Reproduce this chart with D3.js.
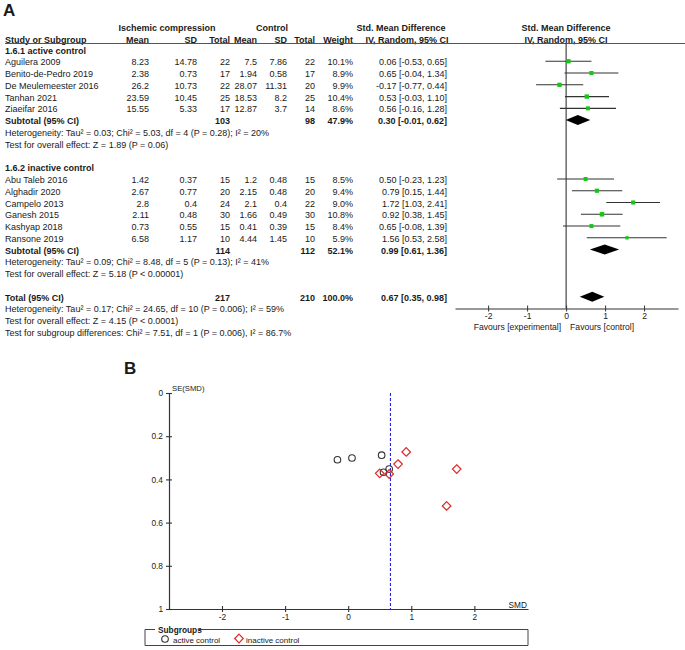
<!DOCTYPE html>
<html><head><meta charset="utf-8">
<script src="https://cdn.jsdelivr.net/npm/d3@7"></script>
<style>
body{margin:0;background:#fff}
svg{display:block}
text{font-family:"Liberation Sans",Arial,sans-serif;fill:#1a1a1a}
</style>
</head><body>
<svg id="c" width="685" height="650"></svg>
<script>
// ---------- DATA ----------
const subgroupNames = ["1.6.1 active control", "1.6.2 inactive control"];
const studyNames = ["Aguilera 2009", "Benito-de-Pedro 2019", "De Meulemeester 2016", "Tanhan 2021", "Ziaeifar 2016",
  "Abu Taleb 2016", "Alghadir 2020", "Campelo 2013", "Ganesh 2015", "Kashyap 2018", "Ransone 2019"];
const studyGroup = [0,0,0,0,0,1,1,1,1,1,1];
const icMean   = [8.23, 2.38, 26.2, 23.59, 15.55, 1.42, 2.67, 2.8, 2.11, 0.73, 6.58];
const icSD     = [14.78, 0.73, 10.73, 10.45, 5.33, 0.37, 0.77, 0.4, 0.48, 0.55, 1.17];
const icTotal  = [22, 17, 22, 25, 17, 15, 20, 24, 30, 15, 10];
const ctlMean  = [7.5, 1.94, 28.07, 18.53, 12.87, 1.2, 2.15, 2.1, 1.66, 0.41, 4.44];
const ctlSD    = [7.86, 0.58, 11.31, 8.2, 3.7, 0.48, 0.48, 0.4, 0.49, 0.39, 1.45];
const ctlTotal = [22, 17, 20, 25, 14, 15, 20, 22, 30, 15, 10];
const weights  = [10.1, 8.9, 9.9, 10.4, 8.6, 8.5, 9.4, 9.0, 10.8, 8.4, 5.9];
const smd      = [0.06, 0.65, -0.17, 0.53, 0.56, 0.50, 0.79, 1.72, 0.92, 0.65, 1.56];
const ciLow    = [-0.53, -0.04, -0.77, -0.03, -0.16, -0.23, 0.15, 1.03, 0.38, -0.08, 0.53];
const ciHigh   = [0.65, 1.34, 0.44, 1.10, 1.28, 1.23, 1.44, 2.41, 1.45, 1.39, 2.58];
const seSMD    = [0.301, 0.352, 0.309, 0.288, 0.367, 0.372, 0.329, 0.352, 0.273, 0.375, 0.523];

const pooledLabels = ["Subtotal (95% CI)", "Subtotal (95% CI)", "Total (95% CI)"];
const pooledIcTotal = [103, 114, 217];
const pooledCtlTotal = [98, 112, 210];
const pooledWeight = [47.9, 52.1, 100.0];
const pooledSMD = [0.30, 0.99, 0.67];
const pooledLow = [-0.01, 0.61, 0.35];
const pooledHigh = [0.62, 1.36, 0.98];
const hetTexts = [
  "Heterogeneity: Tau\u00B2 = 0.03; Chi\u00B2 = 5.03, df = 4 (P = 0.28); I\u00B2 = 20%",
  "Heterogeneity: Tau\u00B2 = 0.09; Chi\u00B2 = 8.48, df = 5 (P = 0.13); I\u00B2 = 41%",
  "Heterogeneity: Tau\u00B2 = 0.17; Chi\u00B2 = 24.65, df = 10 (P = 0.006); I\u00B2 = 59%"
];
const effectTexts = [
  "Test for overall effect: Z = 1.89 (P = 0.06)",
  "Test for overall effect: Z = 5.18 (P < 0.00001)",
  "Test for overall effect: Z = 4.15 (P < 0.0001)"
];
const subgroupDiffText = "Test for subgroup differences: Chi\u00B2 = 7.51, df = 1 (P = 0.006), I\u00B2 = 86.7%";
const forestTicks = [-2, -1, 0, 1, 2];
const funnelXTicks = [-2, -1, 0, 1, 2];
const funnelYTicks = [0, 0.2, 0.4, 0.6, 0.8, 1];
const favoursLeft = "Favours [experimental]";
const favoursRight = "Favours [control]";

// ---------- DRAW ----------
const svg = d3.select("#c");
const FS = 9;
const loc = d3.formatLocale({decimal: ".", thousands: ",", grouping: [3], currency: ["", ""], minus: "-"});

function txt(x, y, s, opt = {}) {
  return svg.append("text").attr("x", x).attr("y", y).text(s)
    .attr("font-size", opt.size || FS)
    .attr("font-weight", opt.bold ? "bold" : null)
    .attr("text-anchor", opt.anchor || "start")
    .attr("dominant-baseline", "central");
}

// Panel A
txt(3, 10, "A", {size: 17, bold: true});

// header
txt(167, 28, "Ischemic compression", {bold: true, anchor: "middle"});
txt(272, 28, "Control", {bold: true, anchor: "middle"});
txt(401, 28, "Std. Mean Difference", {bold: true, anchor: "middle"});
txt(566, 28, "Std. Mean Difference", {bold: true, anchor: "middle"});
const col = {mean1: 149, sd1: 197, tot1: 230, mean2: 257, sd2: 287, tot2: 315, w: 353, ci: 447};
txt(5, 39.5, "Study or Subgroup", {bold: true});
[["Mean", col.mean1], ["SD", col.sd1], ["Total", col.tot1], ["Mean", col.mean2], ["SD", col.sd2], ["Total", col.tot2], ["Weight", col.w]]
  .forEach(([s, x]) => txt(x, 39.5, s, {bold: true, anchor: "end"}));
txt(407, 39.5, "IV, Random, 95% CI", {bold: true, anchor: "middle"});
txt(566, 39.5, "IV, Random, 95% CI", {bold: true, anchor: "middle"});
svg.append("line").attr("x1", 5).attr("x2", 685).attr("y1", 43.5).attr("y2", 43.5)
  .attr("stroke", "#555").attr("stroke-width", 1);

const rowY = d3.scaleLinear().domain([0, 24]).range([49.5, 49.5 + 24 * 11.77]);
const fx = d3.scaleLinear().domain([-2.85, 2.87]).range([455, 678]);
const sqSize = d3.scaleSqrt().domain([0, 10.8]).range([0, 4.5]);
const f2 = loc.format(".2f");
const ciStr = (m, l, h) => `${f2(m)} [${f2(l)}, ${f2(h)}]`;

// zero line
const axisY = 308.5;
svg.append("line").attr("x1", fx(0)).attr("x2", fx(0)).attr("y1", 43.5).attr("y2", axisY)
  .attr("stroke", "#222").attr("stroke-width", 1);

let r = 0;
const textDy = 1;
function drawDiamond(gi, y) {
  const h = 5;
  const pts = [[fx(pooledLow[gi]), y], [fx(pooledSMD[gi]), y - h], [fx(pooledHigh[gi]), y], [fx(pooledSMD[gi]), y + h]];
  svg.append("path").attr("d", d3.line()(pts) + "Z").attr("fill", "#000");
}
function pooledRow(gi, y) {
  const ty = y + textDy;
  txt(5, ty, pooledLabels[gi], {bold: true});
  txt(col.tot1, ty, String(pooledIcTotal[gi]), {bold: true, anchor: "end"});
  txt(col.tot2, ty, String(pooledCtlTotal[gi]), {bold: true, anchor: "end"});
  txt(col.w, ty, pooledWeight[gi].toFixed(1) + "%", {bold: true, anchor: "end"});
  txt(col.ci, ty, ciStr(pooledSMD[gi], pooledLow[gi], pooledHigh[gi]), {bold: true, anchor: "end"});
  drawDiamond(gi, y);
}
subgroupNames.forEach((g, gi) => {
  txt(5, rowY(r) + textDy, g, {bold: true});
  r++;
  studyNames.forEach((name, i) => {
    if (studyGroup[i] !== gi) return;
    const y = rowY(r), ty = y + textDy;
    txt(5, ty, name);
    txt(col.mean1, ty, String(icMean[i]), {anchor: "end"});
    txt(col.sd1, ty, String(icSD[i]), {anchor: "end"});
    txt(col.tot1, ty, String(icTotal[i]), {anchor: "end"});
    txt(col.mean2, ty, String(ctlMean[i]), {anchor: "end"});
    txt(col.sd2, ty, String(ctlSD[i]), {anchor: "end"});
    txt(col.tot2, ty, String(ctlTotal[i]), {anchor: "end"});
    txt(col.w, ty, weights[i].toFixed(1) + "%", {anchor: "end"});
    txt(col.ci, ty, ciStr(smd[i], ciLow[i], ciHigh[i]), {anchor: "end"});
    svg.append("line").attr("x1", fx(ciLow[i])).attr("x2", fx(ciHigh[i])).attr("y1", y).attr("y2", y)
      .attr("stroke", "#333").attr("stroke-width", 1.1);
    const s = sqSize(weights[i]);
    svg.append("rect").attr("x", fx(smd[i]) - s / 2).attr("y", y - s / 2).attr("width", s).attr("height", s)
      .attr("fill", "#16c816");
    r++;
  });
  pooledRow(gi, rowY(r)); r++;
  txt(5, rowY(r) + textDy, hetTexts[gi]); r++;
  txt(5, rowY(r) + textDy, effectTexts[gi]); r++;
  r++; // blank row
});
pooledRow(2, rowY(r)); r++;
txt(5, rowY(r) + textDy, hetTexts[2]); r++;
txt(5, rowY(r) + textDy, effectTexts[2]); r++;
txt(5, rowY(r) + textDy, subgroupDiffText);

// forest axis
const fAxis = svg.append("g").attr("transform", `translate(0,${axisY})`)
  .call(d3.axisBottom(fx).tickValues(forestTicks).tickFormat(loc.format("d")).tickSizeOuter(0).tickSizeInner(3).tickPadding(0));
fAxis.select(".domain").attr("stroke", "#333");
fAxis.selectAll(".tick line").attr("y1", -3).attr("y2", 3).attr("stroke", "#333");
fAxis.selectAll(".tick text").attr("font-size", 8.6).attr("font-family", "Liberation Sans, Arial, sans-serif")
  .attr("fill", "#1a1a1a").attr("y", 7).attr("dy", null).attr("dominant-baseline", "central");
txt(fx(0) - 5, 326.5, favoursLeft, {anchor: "end", size: 8.6});
txt(fx(0) + 4, 326.5, favoursRight, {anchor: "start", size: 8.6});

// Panel B
txt(124, 368, "B", {size: 17, bold: true});
const gx = d3.scaleLinear().domain([-2.84, 2.85]).range([169, 528]);
const gy = d3.scaleLinear().domain([0, 1]).range([393, 609]);

const yAx = svg.append("g").attr("transform", `translate(${gx.range()[0]},0)`)
  .call(d3.axisLeft(gy).tickValues(funnelYTicks).tickFormat(loc.format("")).tickSizeOuter(0).tickSizeInner(3).tickPadding(3));
yAx.selectAll(".tick line").attr("x1", -3).attr("x2", 3);
const xAx = svg.append("g").attr("transform", `translate(0,${gy.range()[1]})`)
  .call(d3.axisBottom(gx).tickValues(funnelXTicks).tickFormat(loc.format("d")).tickSizeOuter(0).tickSizeInner(3).tickPadding(2));
xAx.selectAll(".tick line").attr("y1", -3).attr("y2", 3);
[yAx, xAx].forEach(a => {
  a.select(".domain").attr("stroke", "#333").attr("stroke-width", 1.2);
  a.selectAll(".tick line").attr("stroke", "#333").attr("stroke-width", 1.1);
  a.selectAll(".tick text").attr("font-size", 8.3).attr("font-family", "Liberation Sans, Arial, sans-serif").attr("fill", "#1a1a1a");
});
txt(172, 388, "SE(SMD)", {size: 7.7});
txt(527, 605, "SMD", {size: 8.3, anchor: "end"});

// pooled line
svg.append("line").attr("x1", gx(pooledSMD[2])).attr("x2", gx(pooledSMD[2]))
  .attr("y1", gy(0)).attr("y2", gy(1))
  .attr("stroke", "#2323e0").attr("stroke-width", 1.1).attr("stroke-dasharray", "3,2");

// points
const diamondSym = (cx, cy, s) => `M${cx},${cy - s}L${cx + s},${cy}L${cx},${cy + s}L${cx - s},${cy}Z`;
studyNames.forEach((n, i) => {
  const cx = gx(smd[i]), cy = gy(seSMD[i]);
  if (studyGroup[i] === 0) {
    svg.append("circle").attr("cx", cx).attr("cy", cy).attr("r", 3.3)
      .attr("fill", "none").attr("stroke", "#333").attr("stroke-width", 1.1);
  } else {
    svg.append("path").attr("d", diamondSym(cx, cy, 4.3))
      .attr("fill", "none").attr("stroke", "#dd2a2a").attr("stroke-width", 1.2);
  }
});

// legend
const lg = {x0: 145, x1: 528, y0: 629.5, y1: 645.5};
svg.append("path").attr("d", `M${lg.x0 + 10},${lg.y0}H${lg.x0}V${lg.y1}H${lg.x1}V${lg.y0}H${lg.x0 + 54}`)
  .attr("fill", "none").attr("stroke", "#444").attr("stroke-width", 1);
txt(lg.x0 + 13, lg.y0, "Subgroups", {size: 8.3, bold: true});
svg.append("circle").attr("cx", 165).attr("cy", 639).attr("r", 3.3)
  .attr("fill", "none").attr("stroke", "#333").attr("stroke-width", 1.1);
txt(173, 640, "active control", {size: 8});
svg.append("path").attr("d", diamondSym(239, 638.5, 4.3))
  .attr("fill", "none").attr("stroke", "#dd2a2a").attr("stroke-width", 1.2);
txt(246, 640, "inactive control", {size: 8});
</script>
</body></html>
